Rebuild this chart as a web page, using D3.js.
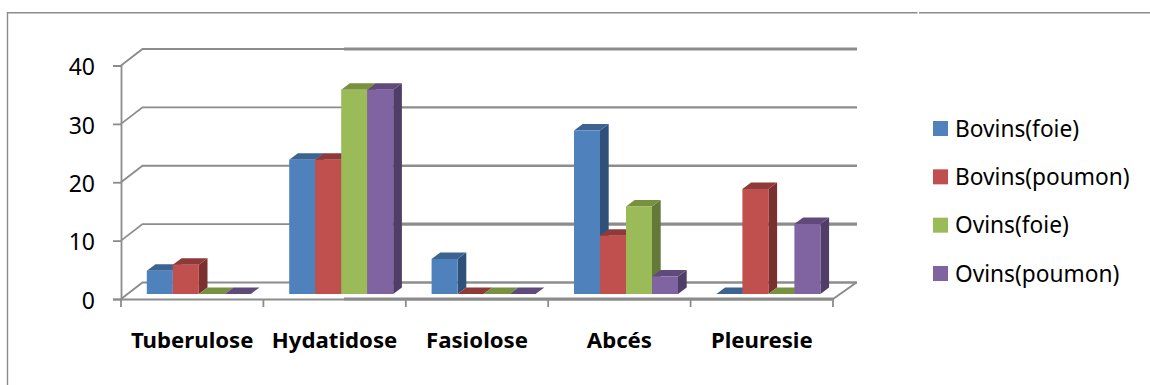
<!DOCTYPE html>
<html>
<head>
<meta charset="utf-8">
<script src="https://cdn.jsdelivr.net/npm/d3@7"></script>
<style>
body { margin: 0; background: #fff; }
text { font-family: "Noto Sans", sans-serif; fill: #000; }
.grid { stroke: #8c8c8c; fill: none; }
</style>
</head>
<body>
<div id="chart"></div>
<script>
const categories = ["Tuberulose", "Hydatidose", "Fasiolose", "Abcés", "Pleuresie"];
const seriesNames = ["Bovins(foie)", "Bovins(poumon)", "Ovins(foie)", "Ovins(poumon)"];
const bovinsFoie = [4, 23, 6, 28, 0];
const bovinsPoumon = [5, 23, 0, 10, 18];
const ovinsFoie = [0, 35, 0, 15, 0];
const ovinsPoumon = [0, 35, 0, 3, 12];
const seriesValues = [bovinsFoie, bovinsPoumon, ovinsFoie, ovinsPoumon];
const yTicks = [0, 10, 20, 30, 40];

const frontColors = ["#4f81bd", "#c0504d", "#9bbb59", "#8064a2"];
const topColors = ["#3b6491", "#8e3a38", "#77913f", "#604a7b"];
const sideColors = ["#2f5179", "#7a302e", "#64783a", "#513e68"];

const width = 1150, height = 385;
const wallDx = 21.5, wallDy = -16.5;   // back wall offset
const barDy = -5;                      // bars stand a bit behind the front edge
const depthX = 8.7, depthY = -6.5;     // bar depth

const svg = d3.select("#chart")
  .append("svg")
  .attr("width", width)
  .attr("height", height)
  .style("display", "block");

const x = d3.scaleBand().domain(categories).range([121, 833]);
const y = d3.scaleLinear().domain([0, 40]).range([299, 65.5]);
const sub = d3.scaleBand().domain(seriesNames).range([25.8, 129.8]);

// outer frame, cropped from the page
svg.append("path").attr("class", "grid")
  .attr("stroke-width", 1.4)
  .attr("d", "M7.5,385V12.7H917.5M919,12.7H1150");

// back wall gridlines, thin part then the heavier part
const gridEnd = x.range()[1] + wallDx + 2.5;
const heavy = [2.4, 3.4, 2.4, 2.4, 3.2];
svg.append("g").selectAll("path")
  .data(yTicks)
  .join("path")
  .attr("class", "grid")
  .attr("stroke-width", 1.8)
  .attr("d", d => `M${x.range()[0]},${y(d)}l${wallDx},${wallDy}H344`);
svg.append("g").selectAll("line")
  .data(yTicks)
  .join("line")
  .attr("class", "grid")
  .attr("stroke-width", (d, i) => heavy[i])
  .attr("x1", 344).attr("x2", gridEnd)
  .attr("y1", d => y(d) + wallDy).attr("y2", d => y(d) + wallDy);

// floor right edge and front edge
svg.append("path").attr("class", "grid")
  .attr("stroke-width", 2)
  .attr("d", `M${x.range()[1]},${y(0)}l${wallDx + 2},${wallDy}`);
svg.append("line").attr("class", "grid")
  .attr("stroke-width", 2.8)
  .attr("x1", 344).attr("x2", x.range()[1])
  .attr("y1", y(0)).attr("y2", y(0));

// y axis
svg.append("g")
  .attr("transform", `translate(${x.range()[0]},0)`)
  .call(d3.axisLeft(y).tickValues(yTicks).tickSize(8).tickPadding(18))
  .call(g => g.selectAll(".tick line").attr("stroke", "#8c8c8c").attr("stroke-width", 1.8))
  .call(g => g.select(".domain").attr("stroke", "#8c8c8c").attr("stroke-width", 1.8))
  .call(g => g.selectAll("text")
    .attr("font-size", 23).attr("dy", "0.4em")
    .style("font-family", "'Noto Sans', sans-serif"));

// x axis, labels from the band axis and ticks on the band edges
svg.append("g")
  .attr("transform", `translate(0,${y(0)})`)
  .call(d3.axisBottom(x).tickSize(0).tickPadding(33))
  .call(g => g.select(".domain").attr("stroke", "#8c8c8c").attr("stroke-width", 1.8))
  .call(g => g.selectAll("text")
    .attr("font-size", 22.2).attr("font-weight", "bold")
    .style("font-family", "'Noto Sans', sans-serif"));

svg.append("g").selectAll("line")
  .data(categories.map(d => x(d)).concat(x.range()[1]))
  .join("line")
  .attr("class", "grid")
  .attr("stroke-width", 1.8)
  .attr("x1", d => d).attr("x2", d => d)
  .attr("y1", y(0)).attr("y2", y(0) + 8);

// bars, left to right so each front covers the previous side
const bars = categories.flatMap((c, i) => seriesNames.map((s, j) => ({c, s, j, v: seriesValues[j][i]})));
const barGroup = svg.append("g").selectAll("g")
  .data(bars)
  .join("g")
  .attr("transform", d => `translate(${x(d.c) + sub(d.s)},${barDy})`);

barGroup.append("path")
  .attr("fill", d => sideColors[d.j])
  .attr("d", d => {
    const w = sub.bandwidth();
    return `M${w},${y(d.v)}l${depthX},${depthY}V${y(0) + depthY}L${w},${y(0)}Z`;
  });
barGroup.append("path")
  .attr("fill", d => topColors[d.j])
  .attr("d", d => {
    const w = sub.bandwidth();
    return `M0,${y(d.v)}l${depthX},${depthY}h${w}L${w},${y(d.v)}Z`;
  });
barGroup.append("rect")
  .attr("fill", d => frontColors[d.j])
  .attr("x", 0)
  .attr("y", d => y(d.v))
  .attr("width", sub.bandwidth())
  .attr("height", d => y(0) - y(d.v));

// legend
const legendY = d3.scalePoint().domain(seriesNames).range([128.5, 273.5]);
const legend = svg.append("g").selectAll("g")
  .data(seriesNames)
  .join("g")
  .attr("transform", d => `translate(933,${legendY(d)})`);
legend.append("rect")
  .attr("y", -7.5).attr("width", 15).attr("height", 15)
  .attr("fill", (d, i) => frontColors[i]);
legend.append("text")
  .attr("x", 22).attr("y", 8)
  .attr("font-size", 22.7)
  .text(d => d);
</script>
</body>
</html>
